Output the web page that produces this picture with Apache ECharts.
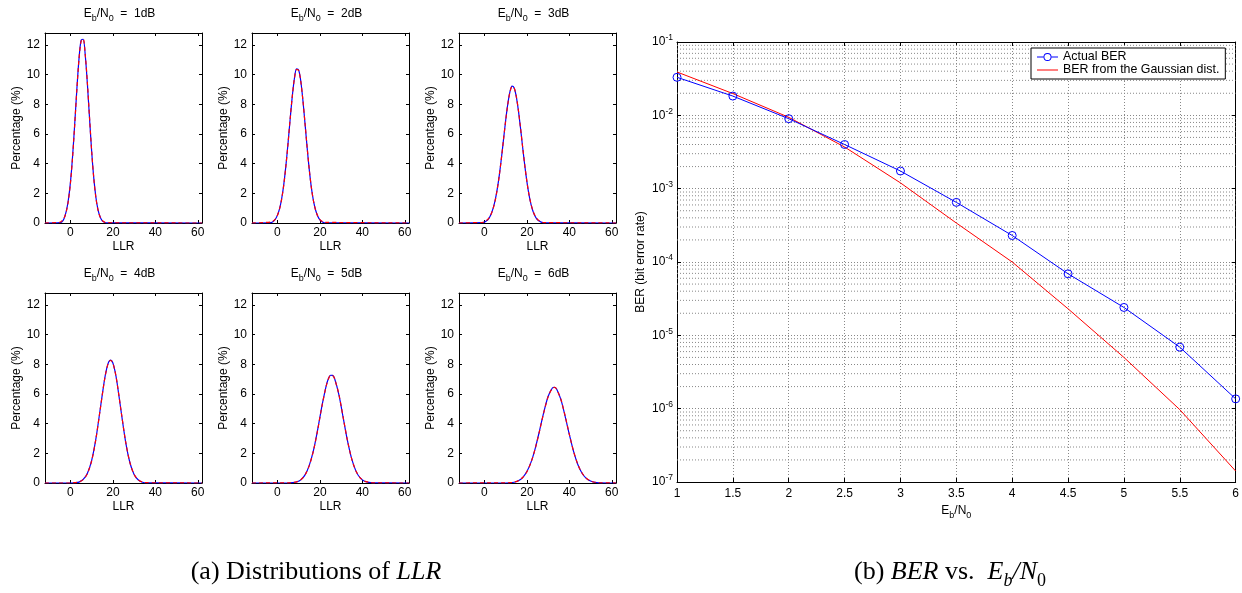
<!DOCTYPE html>
<html><head><meta charset="utf-8">
<script src="https://cdn.jsdelivr.net/npm/echarts@6/dist/echarts.min.js"></script>
<style>html,body{margin:0;padding:0;background:#fff}#c{width:1242px;height:593px}</style>
</head><body><div id="c"></div>
<script>
// ---------- data: LLR distributions (percentage vs LLR) ----------
const snrTitles = ['1dB', '2dB', '3dB', '4dB', '5dB', '6dB'];
const llrTicks = [0, 20, 40, 60];
const pctTicks = [0, 2, 4, 6, 8, 10, 12];

const llr1 = [-12,-5,-4,-3,-2,-1,0,1,2,3,4,5,6,7,8,9,10,11,12,13,14,15,16,17,62];
const actual1 = [0,0.02,0.08,0.30,0.78,1.55,2.75,4.50,6.65,8.98,11.02,12.30,12.38,11.25,9.32,7.02,4.82,3.02,1.72,0.88,0.40,0.15,0.05,0.01,0];
const gauss1 = [0,0.05,0.14,0.34,0.74,1.48,2.69,4.43,6.61,8.95,10.99,12.23,12.40,11.31,9.40,7.08,4.84,3.00,1.68,0.86,0.40,0.17,0.06,0.02,0];

const llr2 = [-12,-3,-2,-1,0,1,2,3,4,5,6,7,8,9,10,11,12,13,14,15,16,17,18,19,20,21,22,62];
const actual2 = [0,0.03,0.10,0.25,0.53,0.97,1.65,2.62,3.90,5.40,7.02,8.55,9.75,10.38,10.30,9.55,8.25,6.68,5.06,3.58,2.37,1.48,0.86,0.45,0.21,0.09,0.03,0];
const gauss2 = [0,0.06,0.13,0.27,0.52,0.95,1.62,2.59,3.87,5.39,7.03,8.55,9.73,10.34,10.27,9.54,8.27,6.70,5.08,3.59,2.37,1.47,0.85,0.46,0.23,0.11,0.05,0];

const llr3 = [-12,-1,0,1,2,3,4,5,6,7,8,9,10,11,12,13,14,15,16,17,18,19,20,21,22,23,24,25,26,27,28,62];
const actual3 = [0,0.02,0.06,0.15,0.30,0.56,0.95,1.50,2.26,3.22,4.38,5.65,6.91,8.02,8.84,9.22,9.10,8.52,7.57,6.38,5.10,3.88,2.79,1.90,1.22,0.74,0.42,0.22,0.11,0.04,0.01,0];
const gauss3 = [0,0.04,0.08,0.17,0.31,0.55,0.93,1.48,2.24,3.21,4.37,5.64,6.90,8.00,8.81,9.19,9.09,8.53,7.59,6.40,5.12,3.89,2.80,1.91,1.24,0.76,0.44,0.24,0.13,0.06,0.03,0];

const llr4 = [-12,0,2,4,6,8,10,12,14,16,17,18,19,20,21,22,24,26,28,30,32,34,36,62];
const actual4 = [0,0.00,0.01,0.06,0.24,0.66,1.52,2.99,4.95,6.92,7.66,8.15,8.28,8.08,7.53,6.72,4.70,2.77,1.38,0.57,0.20,0.05,0.01,0];
const gauss4 = [0,0.00,0.02,0.07,0.23,0.64,1.50,2.97,4.93,6.90,7.65,8.13,8.27,8.06,7.52,6.72,4.72,2.79,1.39,0.58,0.21,0.06,0.02,0];

const llr5 = [-12,5,7,9,11,13,15,17,19,21,23,24,25,26,27,29,31,33,35,37,39,41,43,45,62];
const actual5 = [0,0.00,0.02,0.07,0.21,0.55,1.19,2.21,3.63,5.21,6.56,7.02,7.26,7.25,7.01,5.92,4.38,2.85,1.62,0.80,0.34,0.12,0.04,0.01,0];
const gauss5 = [0,0.01,0.02,0.08,0.22,0.54,1.17,2.19,3.61,5.20,6.55,7.00,7.24,7.24,7.00,5.93,4.40,2.86,1.63,0.81,0.35,0.14,0.05,0.01,0];

const llr6 = [-12,10,12,14,16,18,20,22,24,26,28,30,32,33,34,36,38,40,42,44,46,48,50,52,54,62];
const actual6 = [0,0.00,0.01,0.05,0.15,0.36,0.77,1.42,2.37,3.55,4.79,5.83,6.40,6.45,6.33,5.63,4.51,3.27,2.13,1.25,0.66,0.31,0.13,0.04,0.01,0];
const gauss6 = [0,0.01,0.02,0.06,0.16,0.37,0.76,1.41,2.35,3.53,4.77,5.81,6.39,6.44,6.32,5.64,4.53,3.28,2.14,1.26,0.67,0.32,0.14,0.05,0.02,0];

// ---------- data: BER vs Eb/N0 ----------
const ebn0 = [1, 1.5, 2, 2.5, 3, 3.5, 4, 4.5, 5, 5.5, 6];
const berActual = [3.3e-2, 1.83e-2, 9.0e-3, 4.0e-3, 1.74e-3, 6.5e-4, 2.3e-4, 6.9e-5, 2.4e-5, 6.9e-6, 1.36e-6];
const berGauss  = [3.9e-2, 1.98e-2, 9.4e-3, 3.7e-3, 1.2e-3, 3.4e-4, 1.0e-4, 2.3e-5, 5.0e-6, 9.7e-7, 1.41e-7];
const legendNames = ['Actual BER', 'BER from the Gaussian dist.'];
const minorMultipliers = [2, 3, 4, 5, 6, 7, 8, 9];
const decadeExponents = [-7, -6, -5, -4, -3, -2];

// ---------- build ----------
const FONT = '"Liberation Sans", Arial, Helvetica, sans-serif';
const SERIF = '"Liberation Serif", "DejaVu Serif", serif';
const llrX = [llr1, llr2, llr3, llr4, llr5, llr6];
const actualY = [actual1, actual2, actual3, actual4, actual5, actual6];
const gaussY = [gauss1, gauss2, gauss3, gauss4, gauss5, gauss6];

const colLeft = [45, 252, 459], rowTop = [33, 293], GW = 157, GH = 190;
const grids = [], xAxes = [], yAxes = [], series = [], graphics = [];
const lbl = { fontSize: 12, color: '#000', fontFamily: FONT };
const axLine = { show: true, onZero: false, lineStyle: { color: '#000', width: 1 } };
const tick = (len) => ({ inside: true, length: len, lineStyle: { color: '#000' } });

for (let i = 0; i < 6; i++) {
  const left = colLeft[i % 3], top = rowTop[Math.floor(i / 3)];
  grids.push({ left, top, width: GW, height: GH });
  const xi = xAxes.length, yi = yAxes.length;
  xAxes.push({
    type: 'value', gridIndex: i, position: 'bottom', min: -12, max: 62, minInterval: 20, maxInterval: 20,
    name: 'LLR', nameLocation: 'middle', nameGap: 18, nameTextStyle: lbl,
    axisLine: axLine, axisTick: tick(3),
    axisLabel: Object.assign({ margin: 4, formatter: v => llrTicks.includes(v) ? String(v) : '' }, lbl),
    splitLine: { show: false }
  });
  xAxes.push({
    type: 'value', gridIndex: i, position: 'top', min: -12, max: 62, minInterval: 20, maxInterval: 20,
    axisLine: axLine, axisTick: tick(3),
    axisLabel: { show: false }, splitLine: { show: false }
  });
  yAxes.push({
    type: 'value', gridIndex: i, position: 'left', min: 0, max: 12.8, interval: 2,
    name: 'Percentage (%)', nameLocation: 'middle', nameGap: 20, nameTextStyle: lbl,
    axisLine: axLine, axisTick: tick(3),
    axisLabel: Object.assign({ margin: 5, formatter: v => pctTicks.includes(v) ? String(v) : '' }, lbl),
    splitLine: { show: false }
  });
  yAxes.push({
    type: 'value', gridIndex: i, position: 'right', min: 0, max: 12.8, interval: 2,
    axisLine: axLine, axisTick: tick(3),
    axisLabel: { show: false }, splitLine: { show: false }
  });
  series.push({
    type: 'line', name: 'actual' + i, xAxisIndex: xi, yAxisIndex: yi, showSymbol: false, symbol: 'none',
    smooth: 0.3, data: llrX[i].map((x, j) => [x, actualY[i][j]]),
    lineStyle: { color: '#0000ff', width: 1.2 }, itemStyle: { color: '#0000ff' }, z: 2, silent: true
  });
  series.push({
    type: 'line', name: 'gauss' + i, xAxisIndex: xi, yAxisIndex: yi, showSymbol: false, symbol: 'none',
    smooth: 0.3, data: llrX[i].map((x, j) => [x, gaussY[i][j]]),
    lineStyle: { color: '#ff0000', width: 1.2, type: [4, 3] }, itemStyle: { color: '#ff0000' }, z: 3, silent: true
  });
  graphics.push({
    type: 'text', x: left + GW / 2 - 4, y: top - 19, silent: true,
    style: {
      text: '{t|E}{s|b}{t|/N}{s|0}{t|  =  ' + snrTitles[i] + '}',
      align: 'center', verticalAlign: 'middle',
      rich: {
        t: { fontSize: 12, lineHeight: 19, fontFamily: FONT, fill: '#000' },
        s: { fontSize: 9, lineHeight: 9, verticalAlign: 'bottom', fontFamily: FONT, fill: '#000' }
      }
    }
  });
}

// BER grid
const BG = grids.length;
grids.push({ left: 677, top: 42, width: 559, height: 440 });
const dotted = { color: '#888', width: 1, type: [1, 2] };
const bxi = xAxes.length, byi = yAxes.length;
xAxes.push({
  type: 'value', gridIndex: BG, position: 'bottom', min: 1, max: 6, interval: 0.5,
  name: '{t|E}{s|b}{t|/N}{s|0}', nameLocation: 'middle', nameGap: 19,
  nameTextStyle: { rich: {
    t: { fontSize: 12, lineHeight: 19, fontFamily: FONT, color: '#000' },
    s: { fontSize: 9, lineHeight: 9, verticalAlign: 'bottom', fontFamily: FONT, color: '#000' } } },
  axisLine: axLine, axisTick: tick(4),
  axisLabel: Object.assign({ margin: 6 }, lbl),
  splitLine: { show: true, lineStyle: dotted }
});
xAxes.push({
  type: 'value', gridIndex: BG, position: 'top', min: 1, max: 6, interval: 0.5,
  axisLine: axLine, axisTick: tick(4),
  axisLabel: { show: false }, splitLine: { show: false }
});
yAxes.push({
  type: 'log', logBase: 10, gridIndex: BG, position: 'left', min: 1e-7, max: 1e-1, splitNumber: 6,
  name: 'BER (bit error rate)', nameLocation: 'middle', nameGap: 30, nameTextStyle: lbl,
  axisLine: axLine, axisTick: tick(4),
  axisLabel: {
    margin: 4, color: '#000',
    formatter: v => '{b|10}{e|' + Math.round(Math.log10(v)) + '}',
    rich: {
      b: { fontSize: 12, lineHeight: 17, fontFamily: FONT, color: '#000' },
      e: { fontSize: 8.5, lineHeight: 8, verticalAlign: 'top', fontFamily: FONT, color: '#000' }
    }
  },
  splitLine: { show: true, lineStyle: dotted }
});
yAxes.push({
  type: 'log', logBase: 10, gridIndex: BG, position: 'right', min: 1e-7, max: 1e-1, splitNumber: 6,
  axisLine: axLine, axisTick: tick(4),
  axisLabel: { show: false }, splitLine: { show: false }
});

// minor log grid lines (2..9 x 10^k), drawn through the log scale as broken line segments
const minorData = [];
decadeExponents.forEach(e => minorMultipliers.forEach(k => {
  const v = k * Math.pow(10, e);
  minorData.push([1, v], [6, v], [6, '-']);
}));
series.push({
  type: 'line', name: 'minorgrid', xAxisIndex: bxi, yAxisIndex: byi, data: minorData, silent: true, z: 1,
  symbol: 'none', showSymbol: false, connectNulls: false, lineStyle: dotted, itemStyle: { color: '#888' }
});
series.push({
  type: 'line', name: legendNames[0], xAxisIndex: bxi, yAxisIndex: byi,
  data: ebn0.map((x, j) => [x, berActual[j]]),
  symbol: 'circle', symbolSize: 8, showSymbol: true,
  lineStyle: { color: '#0000ff', width: 1 },
  itemStyle: { color: 'rgba(255,255,255,0)', borderColor: '#0000ff', borderWidth: 1 },
  z: 4, clip: false
});
series.push({
  type: 'line', name: legendNames[1], xAxisIndex: bxi, yAxisIndex: byi,
  data: ebn0.map((x, j) => [x, berGauss[j]]),
  symbol: 'none', lineStyle: { color: '#ff0000', width: 1 }, itemStyle: { color: '#ff0000' }, z: 3
});

// captions
graphics.push({
  type: 'text', x: 316, y: 572, silent: true,
  style: { text: '{r|(a) Distributions of }{i|LLR}', align: 'center', verticalAlign: 'middle',
    rich: { r: { fontSize: 26, lineHeight: 32, fontFamily: SERIF, fill: '#000' },
            i: { fontSize: 26, lineHeight: 32, fontFamily: SERIF, fontStyle: 'italic', fill: '#000' } } }
});
graphics.push({
  type: 'text', x: 950, y: 572, silent: true,
  style: { text: '{r|(b) }{i|BER}{r| vs.  }{i|E}{s|b}{i|/N}{s0|0}', align: 'center', verticalAlign: 'middle',
    rich: { r: { fontSize: 26, lineHeight: 36, fontFamily: SERIF, fill: '#000' },
            i: { fontSize: 26, lineHeight: 36, fontFamily: SERIF, fontStyle: 'italic', fill: '#000' },
            s: { fontSize: 18, lineHeight: 18, verticalAlign: 'bottom', fontFamily: SERIF, fontStyle: 'italic', fill: '#000' },
            s0: { fontSize: 18, lineHeight: 18, verticalAlign: 'bottom', fontFamily: SERIF, fill: '#000' } } }
});

// legend icons: thin line with hollow circle, plain thin line
const iconCircleLine = 'path://M0,0h0.02v0.02h-0.02z M0,8.98h0.02v0.02h-0.02z M0,4h6.5v1h-6.5z M14.5,4h6.5v1h-6.5z ' +
  'M6.5,4.5a4,4 0 1,0 8,0a4,4 0 1,0 -8,0z M7.4,4.5a3.1,3.1 0 1,1 6.2,0a3.1,3.1 0 1,1 -6.2,0z';
const iconLine = 'path://M0,0h0.02v0.02h-0.02z M0,8.98h0.02v0.02h-0.02z M0,4h21v1h-21z';

const chart = echarts.init(document.getElementById('c'), null, { renderer: 'canvas' });
chart.setOption({
  animation: false,
  backgroundColor: '#fff',
  grid: grids,
  xAxis: xAxes,
  yAxis: yAxes,
  legend: {
    data: [
      { name: legendNames[0], icon: iconCircleLine, itemStyle: { color: '#0000ff', borderWidth: 0 } },
      { name: legendNames[1], icon: iconLine, itemStyle: { color: '#ff0000', borderWidth: 0 } }
    ],
    left: 1031, top: 48, orient: 'vertical',
    backgroundColor: '#fff', borderColor: '#000', borderWidth: 1, borderRadius: 0,
    padding: [3, 6, 3, 6], itemGap: 1, itemWidth: 21, itemHeight: 9,
    itemStyle: { borderWidth: 0 },
    textStyle: { fontSize: 12.4, color: '#000', fontFamily: FONT }, selectedMode: false
  },
  series: series,
  graphic: graphics
});
</script></body></html>
